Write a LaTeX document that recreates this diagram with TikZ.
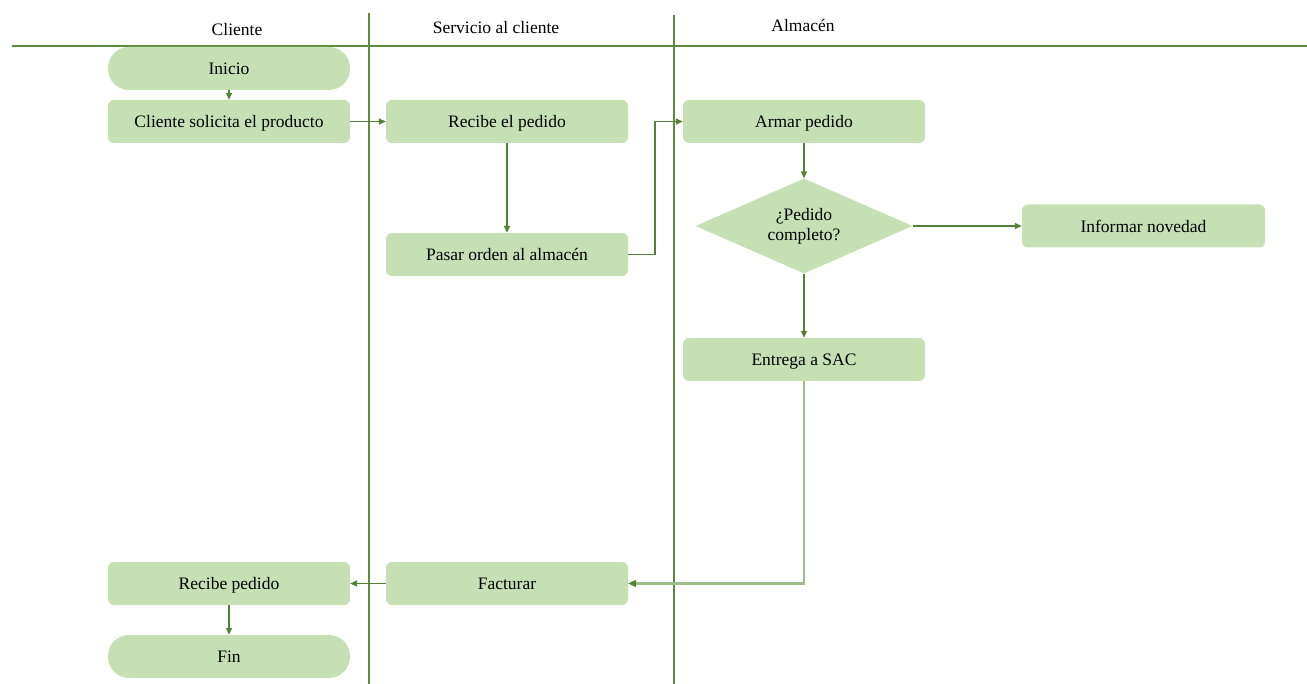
\documentclass[tikz,border=0pt]{standalone}
\usepackage{fontspec}
\setmainfont{Liberation Serif}
\usetikzlibrary{arrows.meta,shapes.geometric}
\definecolor{boxfill}{HTML}{C6E0B4}
\definecolor{lineg}{HTML}{548235}
\definecolor{lanel}{HTML}{5E8C3E}
\definecolor{lightl}{HTML}{9DBE86}
\begin{document}
\begin{tikzpicture}[x=1pt,y=-1pt,
  every node/.style={font=\fontsize{17.5}{20}\selectfont},
  procbox/.style={draw=none,fill=boxfill,rounded corners=6pt,minimum width=242pt,minimum height=43pt,inner sep=0pt,text depth=0pt},
  decbox/.style={draw=none,fill=boxfill,diamond,aspect=2.3,minimum width=217pt,minimum height=95pt,inner sep=0pt,align=center},
  conn/.style={draw=lineg,line width=1.5pt,-{Triangle[length=7pt,width=6pt]}},
  lane/.style={draw=lanel,line width=1.5pt},
  hdr/.style={inner sep=0pt}]
\useasboundingbox (0,0) rectangle (1307,684);
% lanes
\coordinate (hl) at (12,46);
\coordinate (hr) at (1307,46);
\coordinate (v1t) at (369,13);
\coordinate (v1b) at (369,684);
\coordinate (v2t) at (674,15);
\coordinate (v2b) at (674,684);
\draw[lane] (hl) -- (hr);
\draw[lane] (v1t) -- (v1b);
\draw[lane] (v2t) -- (v2b);
\node[hdr] (h1) at (237,30) {Cliente};
\node[hdr] (h2) at (496,28) {Servicio al cliente};
\node[hdr] (h3) at (803,26) {Almacén};
% nodes
\node[procbox,rounded corners=21pt] (inicio) at (229,68.5) {Inicio};
\node[procbox] (solicita) at (229,121.5) {Cliente solicita el producto};
\node[procbox] (recibe) at (507,121.5) {Recibe el pedido};
\node[procbox] (pasar) at (507,254.5) {Pasar orden al almacén};
\node[procbox] (armar) at (804,121.5) {Armar pedido};
\node[decbox] (dec) at (804,226) {¿Pedido\\completo?};
\node[procbox,minimum width=243pt] (informar) at (1143.5,226) {Informar novedad};
\node[procbox] (entrega) at (804,359.5) {Entrega a SAC};
\node[procbox] (facturar) at (507,583.5) {Facturar};
\node[procbox] (recpedido) at (229,583.5) {Recibe pedido};
\node[procbox,rounded corners=21pt] (fin) at (229,656.5) {Fin};
% connectors
\draw[conn] (inicio) -- (solicita);
\draw[conn] (solicita) -- (recibe);
\draw[conn] (recibe) -- (pasar);
\draw[conn] (pasar.east) -- ++(27,0) |- (armar.west);
\draw[conn] (armar) -- (dec);
\draw[conn] (dec) -- (informar);
\draw[conn] (dec) -- (entrega);
\draw[conn,draw=lightl,line width=2.5pt,-{Triangle[length=8pt,width=7pt,fill=lineg,color=lineg]}] (entrega.south) |- (facturar.east);
\draw[conn] (facturar) -- (recpedido);
\draw[conn] (recpedido) -- (fin);
\end{tikzpicture}
\end{document}
